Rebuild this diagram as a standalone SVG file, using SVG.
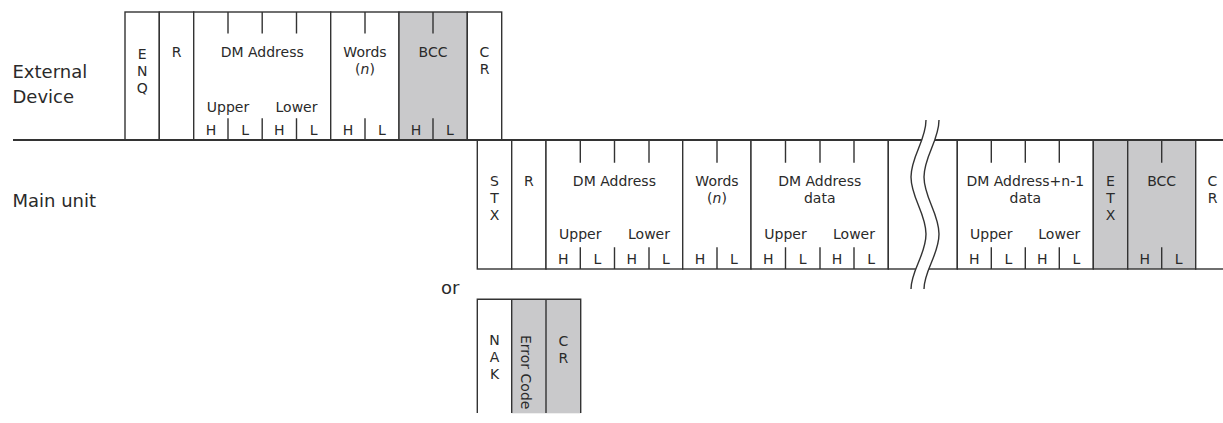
<svg xmlns="http://www.w3.org/2000/svg" width="1223" height="423" viewBox="0 0 1223 423">
<style>
.c{fill:#fff;stroke:#333;stroke-width:1.4}
.g{fill:#c9c9cb;stroke:#333;stroke-width:1.4}
.t{stroke:#333;stroke-width:1.4;fill:none}
text{font-family:"DejaVu Sans",Verdana,sans-serif;font-size:14px;fill:#2a2a2a;text-anchor:middle}
.lbl{font-size:18px;text-anchor:start}
</style>
<rect width="1223" height="423" fill="#fff"/>

<g id="labels">
<text class="lbl" x="12.5" y="77.7">External</text>
<text class="lbl" x="12.5" y="103.3">Device</text>
<text class="lbl" x="12.5" y="206.7">Main unit</text>
<text class="lbl" x="441" y="294">or</text>
</g>

<!-- External device frame -->
<g id="ext-enq">
<rect class="c" x="125" y="12" width="34.3" height="128"/>
<text x="142.2" y="59">E</text><text x="142.2" y="76">N</text><text x="142.2" y="93">Q</text>
</g>
<g id="ext-r">
<rect class="c" x="159.3" y="12" width="34.4" height="128"/>
<text x="176.5" y="57.3">R</text>
</g>
<g id="ext-dm">
<rect class="c" x="193.7" y="12" width="137" height="128"/>
<path class="t" d="M228,12V33.5M262.2,12V33.5M296.5,12V33.5M228,118.3V140M262.2,118.3V140M296.5,118.3V140"/>
<text x="262.2" y="57.3">DM Address</text>
<text x="228" y="111.7">Upper</text><text x="296.5" y="111.7">Lower</text>
<text x="211" y="135">H</text><text x="245.1" y="135">L</text><text x="279.3" y="135">H</text><text x="313.6" y="135">L</text>
</g>
<g id="ext-words">
<rect class="c" x="330.7" y="12" width="68.3" height="128"/>
<path class="t" d="M365,12V33.5M365,118.3V140"/>
<text x="365" y="57.3">Words</text>
<text x="365" y="74.3">(<tspan font-style="italic">n</tspan>)</text>
<text x="348" y="135">H</text><text x="382" y="135">L</text>
</g>
<g id="ext-bcc">
<rect class="g" x="399" y="12" width="68.3" height="128"/>
<path class="t" d="M433,12V33.5M433,118.3V140"/>
<text x="433" y="57.3">BCC</text>
<text x="416" y="135">H</text><text x="450" y="135">L</text>
</g>
<g id="ext-cr">
<rect class="c" x="467.3" y="12" width="34.4" height="128"/>
<text x="484.5" y="57.3">C</text><text x="484.5" y="74.3">R</text>
</g>

<!-- Main unit frame -->
<g id="main-stx">
<rect class="c" x="477.3" y="140" width="34.4" height="129"/>
<text x="494.5" y="185.7">S</text><text x="494.5" y="202.7">T</text><text x="494.5" y="219.7">X</text>
</g>
<g id="main-r">
<rect class="c" x="511.7" y="140" width="34.3" height="129"/>
<text x="528.8" y="185.7">R</text>
</g>
<g id="main-dm">
<rect class="c" x="546" y="140" width="136.7" height="129"/>
<path class="t" d="M580.3,140V162.7M614.5,140V162.7M649,140V162.7M580.3,247.3V269M614.5,247.3V269M649,247.3V269"/>
<text x="614.4" y="185.7">DM Address</text>
<text x="580.3" y="239">Upper</text><text x="649" y="239">Lower</text>
<text x="563.2" y="264">H</text><text x="597.4" y="264">L</text><text x="631.8" y="264">H</text><text x="666" y="264">L</text>
</g>
<g id="main-words">
<rect class="c" x="682.7" y="140" width="68.3" height="129"/>
<path class="t" d="M717,140V162.7M717,247.3V269"/>
<text x="717" y="185.7">Words</text>
<text x="717" y="202.7">(<tspan font-style="italic">n</tspan>)</text>
<text x="700" y="264">H</text><text x="734" y="264">L</text>
</g>
<g id="main-dmdata">
<rect class="c" x="751" y="140" width="137.3" height="129"/>
<path class="t" d="M785.5,140V162.7M820,140V162.7M854,140V162.7M785.5,247.3V269M820,247.3V269M854,247.3V269"/>
<text x="819.7" y="185.7">DM Address</text>
<text x="819.7" y="202.7">data</text>
<text x="785.5" y="239">Upper</text><text x="854" y="239">Lower</text>
<text x="768.2" y="264">H</text><text x="802.7" y="264">L</text><text x="837" y="264">H</text><text x="871.2" y="264">L</text>
</g>
<g id="main-gap">
<rect class="c" x="888.3" y="140" width="69" height="129"/>
</g>
<g id="main-dmn1">
<rect class="c" x="957.3" y="140" width="136" height="129"/>
<path class="t" d="M991.3,140V162.7M1025.3,140V162.7M1059.3,140V162.7M991.3,247.3V269M1025.3,247.3V269M1059.3,247.3V269"/>
<text x="1025.3" y="185.7">DM Address+n-1</text>
<text x="1025.3" y="202.7">data</text>
<text x="991.3" y="239">Upper</text><text x="1059.3" y="239">Lower</text>
<text x="974.3" y="264">H</text><text x="1008.3" y="264">L</text><text x="1042.3" y="264">H</text><text x="1076.3" y="264">L</text>
</g>
<g id="main-etx">
<rect class="g" x="1093.3" y="140" width="34.4" height="129"/>
<text x="1110.5" y="185.7">E</text><text x="1110.5" y="202.7">T</text><text x="1110.5" y="219.7">X</text>
</g>
<g id="main-bcc">
<rect class="g" x="1127.7" y="140" width="68" height="129"/>
<path class="t" d="M1161.7,140V162.7M1161.7,247.3V269"/>
<text x="1161.7" y="185.7">BCC</text>
<text x="1144.7" y="264">H</text><text x="1178.7" y="264">L</text>
</g>
<g id="main-cr">
<rect class="c" x="1195.7" y="140" width="34.4" height="129"/>
<text x="1212.5" y="185.7">C</text><text x="1212.5" y="202.7">R</text>
</g>

<!-- NAK frame -->
<g id="nak">
<rect x="477.3" y="299.3" width="34.4" height="114" fill="#fff"/>
<text x="494.5" y="345.3">N</text><text x="494.5" y="362.3">A</text><text x="494.5" y="379.3">K</text>
</g>
<g id="nak-errorcode">
<rect x="511.7" y="299.3" width="34.3" height="114" fill="#c9c9cb"/>
<text transform="translate(520.5,335) rotate(90)" style="text-anchor:start">Error Code</text>
</g>
<g id="nak-cr">
<rect x="546" y="299.3" width="34.7" height="114" fill="#c9c9cb"/>
<text x="563.3" y="345.7">C</text><text x="563.3" y="362.7">R</text>
</g>
<path class="t" d="M477.3,413V299.3H580.7V413M511.7,299.3V413M546,299.3V413"/>

<!-- connectors / timeline -->
<g id="connectors">
<path d="M13,140H1223" stroke="#333" stroke-width="1.8" fill="none"/>
<path d="M926,120 C926,140.7 911,156.3 911,177 S926,213.3 926,234 S911,270.3 911,289 L924,289 C924,270.3 939,254.7 939,234 S924,197.7 924,177 S939,140.7 939,120 Z" fill="#fff" stroke="none"/>
<path class="t" d="M926,120 C926,140.7 911,156.3 911,177 S926,213.3 926,234 S911,270.3 911,289"/>
<path class="t" d="M939,120 C939,140.7 924,156.3 924,177 S939,213.3 939,234 S924,270.3 924,289"/>
</g>
</svg>
